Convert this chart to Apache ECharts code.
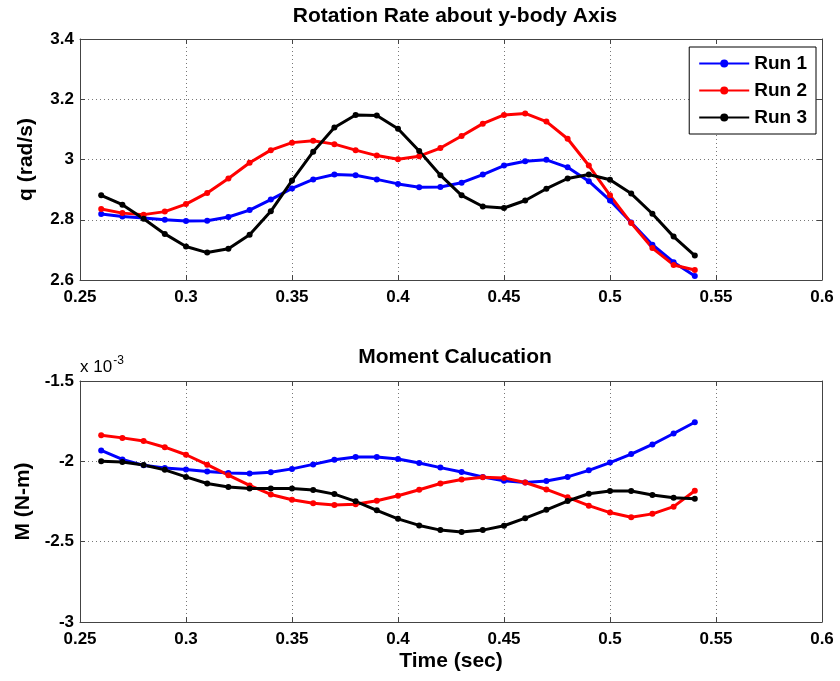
<!DOCTYPE html>
<html>
<head>
<meta charset="utf-8">
<script src="https://cdn.jsdelivr.net/npm/echarts@6/dist/echarts.min.js"></script>
<style>html,body{margin:0;padding:0;background:#fff}#c{width:840px;height:681px}</style>
</head>
<body>
<div id="c"></div>
<script>
var times = [0.26,0.27,0.28,0.29,0.30,0.31,0.32,0.33,0.34,0.35,0.36,0.37,0.38,0.39,0.40,0.41,0.42,0.43,0.44,0.45,0.46,0.47,0.48,0.49,0.50,0.51,0.52,0.53,0.54];
var xTicks = [0.25,0.3,0.35,0.4,0.45,0.5,0.55,0.6];
var qRun1 = [2.819,2.811,2.806,2.800,2.796,2.797,2.809,2.832,2.867,2.904,2.934,2.950,2.948,2.934,2.919,2.908,2.909,2.923,2.950,2.980,2.994,2.999,2.974,2.928,2.864,2.791,2.717,2.659,2.613];
var qRun2 = [2.836,2.822,2.817,2.827,2.852,2.889,2.937,2.989,3.031,3.056,3.062,3.051,3.031,3.013,3.001,3.011,3.038,3.078,3.119,3.148,3.153,3.126,3.069,2.980,2.881,2.789,2.706,2.650,2.633];
var qRun3 = [2.881,2.850,2.803,2.753,2.711,2.691,2.704,2.750,2.828,2.930,3.026,3.106,3.148,3.146,3.102,3.028,2.948,2.881,2.844,2.839,2.864,2.903,2.937,2.950,2.933,2.887,2.820,2.744,2.681];
// Moment values in units of 1e-3 N-m
var mRun1 = [-1.932,-1.988,-2.025,-2.041,-2.051,-2.064,-2.072,-2.076,-2.068,-2.047,-2.019,-1.990,-1.973,-1.973,-1.986,-2.010,-2.039,-2.066,-2.097,-2.121,-2.132,-2.123,-2.097,-2.056,-2.008,-1.955,-1.895,-1.827,-1.757];
var mRun2 = [-1.837,-1.854,-1.874,-1.912,-1.959,-2.021,-2.086,-2.150,-2.206,-2.239,-2.261,-2.272,-2.267,-2.245,-2.214,-2.177,-2.138,-2.113,-2.099,-2.103,-2.132,-2.175,-2.224,-2.276,-2.319,-2.348,-2.327,-2.282,-2.183];
var mRun3 = [-2.000,-2.004,-2.023,-2.053,-2.097,-2.138,-2.160,-2.169,-2.169,-2.169,-2.179,-2.204,-2.249,-2.305,-2.358,-2.399,-2.428,-2.440,-2.428,-2.401,-2.354,-2.302,-2.247,-2.202,-2.185,-2.185,-2.210,-2.226,-2.233];
var seriesNames = ['Run 1','Run 2','Run 3'];
var colors = ['#0000ff','#ff0000','#000000'];

function pairs(ys){ return times.map(function(t,i){ return [t, ys[i]]; }); }
var FONT = 'Liberation Sans, Arial, sans-serif';
var labelStyle = {fontFamily: FONT, fontWeight: 'bold', fontSize: 17, color: '#000'};

function xAx(gi, name, bottom){
  return {
    type:'value', gridIndex: gi, min: xTicks[0], max: xTicks[xTicks.length-1], interval: 0.05,
    position: bottom ? 'bottom' : 'top',
    axisLine:{show:true, lineStyle:{color:'#444', width:1}},
    axisTick:{show:true, inside:true, length:5, lineStyle:{color:'#444'}},
    axisLabel: bottom ? Object.assign({show:true, margin:9, formatter:function(v){return String(+v.toFixed(2));}}, labelStyle) : {show:false},
    splitLine: bottom ? {show:true, lineStyle:{type:[1,3], color:'#777', width:1}} : {show:false},
    name: name || '', nameLocation:'middle', nameGap: 29,
    nameTextStyle: {fontFamily: FONT, fontWeight:'bold', fontSize:21, color:'#000'}
  };
}
function yAx(gi, min, max, interval, name, left){
  return {
    type:'value', gridIndex: gi, min:min, max:max, interval:interval,
    position: left ? 'left' : 'right',
    axisLine:{show:true, lineStyle:{color:'#444', width:1}},
    axisTick:{show:true, inside:true, length:5, lineStyle:{color:'#444'}},
    axisLabel: left ? Object.assign({show:true, margin:6, formatter:function(v){return String(+v.toFixed(2));}}, labelStyle) : {show:false},
    splitLine: left ? {show:true, lineStyle:{type:[1,3], color:'#777', width:1}} : {show:false},
    name: name || '', nameLocation:'middle', nameGap: 43,
    nameTextStyle: {fontFamily: FONT, fontWeight:'bold', fontSize:21, color:'#000'}
  };
}

var series = [];
[qRun1,qRun2,qRun3].forEach(function(d,i){
  series.push({name: seriesNames[i], type:'line', xAxisIndex:0, yAxisIndex:0, data: pairs(d),
    symbol:'circle', symbolSize:6, showSymbol:true, color: colors[i],
    lineStyle:{width:3, color: colors[i]}, itemStyle:{color: colors[i]}, animation:false});
});
[mRun1,mRun2,mRun3].forEach(function(d,i){
  series.push({name: seriesNames[i], type:'line', xAxisIndex:2, yAxisIndex:2, data: pairs(d),
    symbol:'circle', symbolSize:6, showSymbol:true, color: colors[i],
    lineStyle:{width:3, color: colors[i]}, itemStyle:{color: colors[i]}, animation:false});
});

var chart = echarts.init(document.getElementById('c'));
chart.setOption({
  backgroundColor:'#fff',
  animation:false,
  title:[
    {text:'Rotation Rate about y-body Axis', left:450, top:1, textAlign:'center',
      textStyle:{fontFamily:FONT, fontWeight:'bold', fontSize:21, color:'#000'}},
    {text:'Moment Calucation', left:450, top:342, textAlign:'center',
      textStyle:{fontFamily:FONT, fontWeight:'bold', fontSize:21, color:'#000'}}
  ],
  legend:{
    data: seriesNames, right: 24, top: 47, orient:'vertical',
    backgroundColor:'#fff', borderColor:'#000', borderWidth:1,
    padding:[7,9,7,9], itemGap:8, itemWidth:50, itemHeight:10,
    textStyle:{fontFamily:FONT, fontWeight:'bold', fontSize:19, color:'#000'}
  },
  grid:[
    {left:80, right:18, top:39, height:241, containLabel:false},
    {left:80, right:18, top:381, height:241, containLabel:false}
  ],
  xAxis:[ xAx(0,'',true), xAx(0,'',false), xAx(1,'Time (sec)',true), xAx(1,'',false) ],
  yAxis:[ yAx(0,2.6,3.4,0.2,'q (rad/s)',true), yAx(0,2.6,3.4,0.2,'',false),
          yAx(1,-3,-1.5,0.5,'M (N-m)',true), yAx(1,-3,-1.5,0.5,'',false) ],
  graphic:[
    {type:'text', left:80, top:355, style:{
      text:'{a|x 10}{b|-3}', rich:{
        a:{fontFamily:FONT, fontSize:17, fontWeight:'normal', fill:'#000', verticalAlign:'bottom'},
        b:{fontFamily:FONT, fontSize:12, fontWeight:'normal', fill:'#000', verticalAlign:'top', padding:[0,0,9,1]}
      }}}
  ],
  series: series
});
</script>
</body>
</html>
